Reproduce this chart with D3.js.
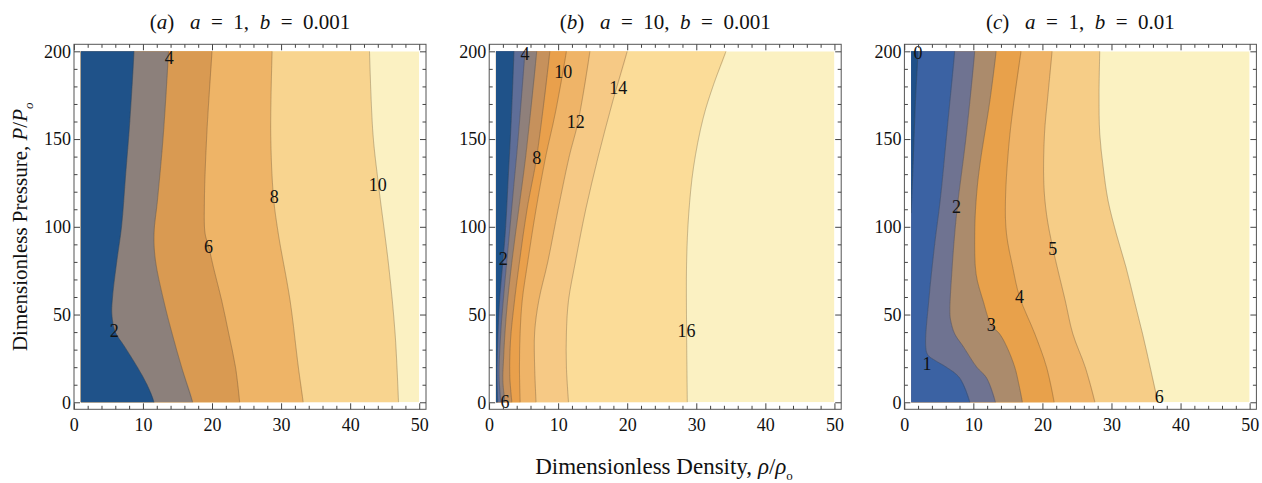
<!DOCTYPE html>
<html><head><meta charset="utf-8">
<script src="https://cdn.jsdelivr.net/npm/d3@7"></script>
<style>
body{margin:0;background:#fff}
svg{display:block}
text{font-family:"Liberation Serif","Times New Roman",serif;fill:#111;white-space:pre}
</style>
</head><body>
<svg id="chart" width="1262" height="483"></svg>
<script>
// ---------------- data ----------------
const rhoExtent = [1, 50];
const pExtent = [0, 200];
const xTickValues = [0, 10, 20, 30, 40, 50];
const yTickValues = [0, 50, 100, 150, 200];
const xMinorValues = [2,4,6,8,12,14,16,18,22,24,26,28,32,34,36,38,42,44,46,48];
const yMinorValues = [10,20,30,40,60,70,80,90,110,120,130,140,160,170,180,190];

const titleLetters = ["a", "b", "c"];
const titleA = ["1", "0.001"];
const titleB = ["10", "0.001"];
const titleC = ["1", "0.01"];

// panel (a): a = 1, b = 0.001
const levelsA = [2, 4, 6, 8, 10];
const contourA2 = [[11.6,0],[10.6,10],[9.2,20],[7.3,32],[6.0,40],[5.5,50],[5.6,60],[6.2,80],[6.9,100],[7.5,130],[8.1,160],[8.7,200]];
const contourA4 = [[17.2,0],[15.6,20],[14.2,39.5],[13.0,58],[11.8,81],[11.6,96],[12.1,115],[12.96,153],[13.7,200]];
const contourA6 = [[24.0,0],[23.4,20],[22.4,39.5],[21.4,58],[20.2,77],[19.5,89],[19.0,96],[18.9,115],[19.25,153],[20.0,200]];
const contourA8 = [[33.2,0],[32.5,20],[31.3,58],[29.6,96],[28.9,117],[28.5,153],[28.7,200]];
const contourA10 = [[47.0,0],[46.5,39.5],[45.6,77],[44.1,124],[43.3,153],[42.8,200]];
const labelsA = [["2",5.86,40.6],["4",13.8,196.6],["6",19.5,88.7],["8",29.0,117.2],["10",44.0,124.2]];

// panel (b): a = 10, b = 0.001
const levelsB = [2, 4, 6, 8, 10, 12, 14, 16];
const contourB2 = [[1.25,0],[1.15,15],[1.3,40],[1.55,60],[2.0,80],[2.4,100],[2.8,130],[3.2,160],[3.6,200]];
const contourB4 = [[1.7,0],[1.45,15],[1.7,40],[2.1,60],[2.8,90],[3.5,120],[4.2,150],[5.2,200]];
const contourB6 = [[2.3,0],[2.0,12],[2.1,25],[2.5,50],[3.3,80],[4.3,110],[5.3,140],[6.9,200]];
const contourB8 = [[3.3,0],[3.0,15],[3.1,35],[3.6,55],[4.4,80],[5.5,110],[6.9,140],[8.8,200]];
const contourB10 = [[4.5,0],[4.4,20],[4.5,40],[4.8,58],[5.6,80],[6.8,110],[8.2,140],[9.6,165],[11.2,200]];
const contourB12 = [[6.8,0],[6.6,20],[6.6,40],[7.2,58],[8.5,80],[10.0,110],[11.6,140],[12.9,160],[14.6,200]];
const contourB14 = [[11.5,0],[11.2,20],[11.2,40],[11.5,58],[12.5,80],[14.0,110],[15.8,140],[17.8,170],[20.0,200]];
const contourB16 = [[28.7,0],[28.6,40],[28.6,80],[28.9,107],[29.6,134],[31.0,162],[32.5,181],[34.3,200]];
const labelsB = [["2",2.06,81.6],["4",5.2,198.9],["6",2.3,0.5],["8",6.9,139.6],["10",10.75,188.4],["12",12.55,159.9],["14",18.7,179.5],["16",28.6,40.6]];

// panel (c): a = 1, b = 0.01
const levelsC = [0, 1, 2, 3, 4, 5, 6];
const contourC0 = [[1.0,108],[1.3,138],[1.6,170],[2.0,200]];
const contourC1 = [[9.5,0],[8.0,14],[6.1,20],[4.4,24],[3.4,27],[3.1,32],[3.6,60],[4.4,90],[5.2,115],[6.2,155],[7.3,200]];
const contourC2 = [[13.2,0],[11.9,14],[10.5,20],[8.5,32],[7.3,39],[6.7,47],[6.6,52],[6.9,75],[7.3,96],[7.7,112],[9.0,153],[10.2,200]];
const contourC3 = [[17.1,0],[16.6,10],[16.0,20],[14.8,32],[13.8,39],[12.6,44],[11.4,58],[10.4,73],[10.2,96],[10.4,115],[10.9,134],[12.4,172],[13.3,200]];
const contourC4 = [[21.7,0],[20.6,20],[18.9,39],[16.7,60],[15.7,77],[14.8,96],[14.65,115],[15.3,153],[16.9,200]];
const contourC5 = [[27.6,0],[26.2,20],[24.4,39],[23.3,58],[21.5,88],[20.6,107],[20.2,125],[20.3,153],[20.8,175],[21.4,200]];
const contourC6 = [[36.7,0],[35.6,20],[34.5,39],[33.3,58],[32.1,77],[30.7,96],[29.5,115],[28.8,134],[28.3,153],[28.2,175],[28.3,200]];
const labelsC = [["0",2.0,199],["1",3.3,22.2],["2",7.56,111.5],["3",12.6,44],["4",16.7,60.2],["5",21.5,87.8],["6",36.9,3.2]];

// ---------------- styles ----------------
const colorsA = ["#1f5289","#8c807b","#d99a52","#eeb467","#f8d48f","#fbf1c2"];
const colorsB = ["#1f5289","#5f6e98","#8f807b","#c6915c","#e9a04c","#efb468","#f6c985","#fbdc98","#fbf1c2"];
const colorsC = ["#1f5089","#3b62a3","#6f7391","#ab8b6c","#e8a14b","#efb468","#f6cd87","#fbf2c2"];

const panels = [
  {letter: titleLetters[0], t: titleA, levels: levelsA, contours: [contourA2,contourA4,contourA6,contourA8,contourA10], labels: labelsA, colors: colorsA, left: 74},
  {letter: titleLetters[1], t: titleB, levels: levelsB, contours: [contourB2,contourB4,contourB6,contourB8,contourB10,contourB12,contourB14,contourB16], labels: labelsB, colors: colorsB, left: 489.2},
  {letter: titleLetters[2], t: titleC, levels: levelsC, contours: [contourC0,contourC1,contourC2,contourC3,contourC4,contourC5,contourC6], labels: labelsC, colors: colorsC, left: 904.4}
];

const plotTop = 44.3, W = 352, H = 365;
const pad = 0.02;
const svg = d3.select("#chart");

panels.forEach((p, pi) => {
  const rSpan = rhoExtent[1] - rhoExtent[0], pSpan = pExtent[1] - pExtent[0];
  const x = d3.scaleLinear().domain([rhoExtent[0] - pad*rSpan, rhoExtent[1] + pad*rSpan]).range([0, W]);
  const y = d3.scaleLinear().domain([pExtent[0] - pad*pSpan, pExtent[1] + pad*pSpan]).range([H, 0]);
  const g = svg.append("g").attr("transform", `translate(${p.left},${plotTop})`);

  const clipId = "clip" + pi;
  g.append("clipPath").attr("id", clipId).append("rect")
    .attr("x", x(rhoExtent[0])).attr("y", y(pExtent[1]))
    .attr("width", x(rhoExtent[1]) - x(rhoExtent[0]))
    .attr("height", y(pExtent[0]) - y(pExtent[1]));

  const fillG = g.append("g").attr("clip-path", `url(#${clipId})`);
  fillG.append("rect")
    .attr("x", x(rhoExtent[0])).attr("y", y(pExtent[1]))
    .attr("width", x(rhoExtent[1]) - x(rhoExtent[0]))
    .attr("height", y(pExtent[0]) - y(pExtent[1]))
    .attr("fill", p.colors[p.colors.length - 1]);

  const line = d3.line().x(d => x(d[0])).y(d => y(d[1])).curve(d3.curveCatmullRom.alpha(0.5));
  // filled bands: region left of each contour gets the colour of the band below that level
  for (let i = p.contours.length - 1; i >= 0; i--) {
    const c = p.contours[i];
    const first = c[0], last = c[c.length - 1];
    const lo = first[1] <= pExtent[0] ? 5 : 0, hi = last[1] >= pExtent[1] ? 5 : 0;
    const ext = [[first[0], first[1] - lo], ...c, [last[0], last[1] + hi]];
    const closing = [[rhoExtent[0] - 1, last[1] + hi], [rhoExtent[0] - 1, first[1] - lo]];
    const d = line(ext) + closing.map(q => `L${x(q[0])},${y(q[1])}`).join("") + "Z";
    fillG.append("path").attr("d", d).attr("fill", p.colors[i]).attr("stroke", p.colors[i]).attr("stroke-width", 0.3);
  }
  p.contours.forEach(c => {
    fillG.append("path").attr("d", line(c)).attr("fill", "none")
      .attr("stroke", "rgba(70,60,50,0.4)").attr("stroke-width", 0.7);
  });
  // contour labels
  g.append("g").selectAll("text").data(p.labels).join("text")
    .attr("x", d => x(d[1])).attr("y", d => y(d[2])).attr("dy", "0.35em")
    .attr("text-anchor", "middle").attr("font-size", 18).text(d => d[0]);

  // frame
  g.append("rect").attr("x", 0).attr("y", 0).attr("width", W).attr("height", H)
    .attr("fill", "none").attr("stroke", "#555").attr("stroke-width", 1);

  const tickStyle = sel => { sel.select(".domain").remove(); sel.selectAll("line").attr("stroke", "#444"); sel.selectAll("text").attr("font-size", 18).attr("font-family", "Liberation Serif").attr("fill", "#222"); };
  g.append("g").attr("transform", `translate(0,${H})`)
    .call(d3.axisBottom(x).tickValues(xTickValues).tickSize(-6).tickSizeOuter(0).tickPadding(9)).call(tickStyle);
  g.append("g").attr("transform", `translate(0,${H})`)
    .call(d3.axisBottom(x).tickValues(xMinorValues).tickSize(-3.5).tickSizeOuter(0).tickFormat("")).call(tickStyle);
  g.append("g").call(d3.axisTop(x).tickValues(xTickValues).tickSize(-6).tickSizeOuter(0).tickFormat("")).call(tickStyle);
  g.append("g").call(d3.axisTop(x).tickValues(xMinorValues).tickSize(-3.5).tickSizeOuter(0).tickFormat("")).call(tickStyle);
  g.append("g").call(d3.axisLeft(y).tickValues(yTickValues).tickSize(-6).tickSizeOuter(0).tickPadding(3)).call(tickStyle);
  g.append("g").call(d3.axisLeft(y).tickValues(yMinorValues).tickSize(-3.5).tickSizeOuter(0).tickFormat("")).call(tickStyle);
  g.append("g").attr("transform", `translate(${W},0)`)
    .call(d3.axisRight(y).tickValues(yTickValues).tickSize(-6).tickSizeOuter(0).tickFormat("")).call(tickStyle);
  g.append("g").attr("transform", `translate(${W},0)`)
    .call(d3.axisRight(y).tickValues(yMinorValues).tickSize(-3.5).tickSizeOuter(0).tickFormat("")).call(tickStyle);

  // title
  const t = g.append("text").attr("x", W/2).attr("y", -15).attr("text-anchor", "middle").attr("font-size", 21);
  t.append("tspan").text("(");
  t.append("tspan").attr("font-style", "italic").text(p.letter);
  t.append("tspan").text(")   ");
  t.append("tspan").attr("font-style", "italic").text("a");
  t.append("tspan").text("  =  " + p.t[0] + ",  ");
  t.append("tspan").attr("font-style", "italic").text("b");
  t.append("tspan").text("  =  " + p.t[1]);
});

// axis titles
const xl = svg.append("text").attr("x", 664).attr("y", 474).attr("text-anchor", "middle").attr("font-size", 23);
xl.append("tspan").text("Dimensionless Density, ");
xl.append("tspan").attr("font-style", "italic").text("ρ");
xl.append("tspan").text("/");
xl.append("tspan").attr("font-style", "italic").text("ρ");
xl.append("tspan").attr("font-size", 13).attr("dy", 6).text("o");

const yl = svg.append("text").attr("transform", `translate(27,${plotTop + H/2}) rotate(-90)`).attr("text-anchor", "middle").attr("font-size", 21);
yl.append("tspan").text("Dimensionless Pressure, ");
yl.append("tspan").attr("font-style", "italic").text("P");
yl.append("tspan").text("/");
yl.append("tspan").attr("font-style", "italic").text("P");
yl.append("tspan").attr("font-size", 13).attr("font-style", "italic").attr("dy", 6).text("o");
</script>
</body></html>
